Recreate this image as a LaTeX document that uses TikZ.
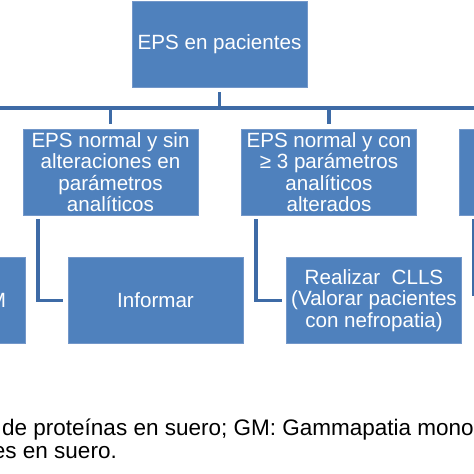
\documentclass[tikz,border=0pt]{standalone}
\usepackage{fontspec}
\setmainfont{Liberation Sans}
\definecolor{boxblue}{HTML}{4F81BD}
\definecolor{edgeblue}{HTML}{7397C9}
\definecolor{lineblue}{HTML}{3E6BA6}

\begin{document}
\begin{tikzpicture}[x=1pt, y=-1pt,
  caja/.style={draw=edgeblue, line width=0.8pt, fill=boxblue, text=white,
    minimum width=175pt, minimum height=86pt, inner sep=0pt, align=center,
    font=\fontsize{20.6}{21.5}\selectfont},
  linea/.style={draw=lineblue, line width=3.8pt},
  pie/.style={inner sep=0pt, font=\fontsize{22.5}{24}\selectfont}]
 \useasboundingbox (0,0) rectangle (474,474);
 \fill[white] (0,0) rectangle (474,474);
 \clip (0,0) rectangle (474,474);
 \node[caja] (eps) at (219.5,44) {EPS en pacientes};
 \node[caja] (normal) at (110.5,172) {EPS normal y sin\\alteraciones en\\parámetros\\analíticos};
 \node[caja] (alterados) at (329,172) {EPS normal y con\\≥ 3 parámetros\\analíticos\\alterados};
 \node[caja] (tercero) at (547,172) {};
 \node[caja, text width=137pt, align=right] (gm) at (-62.5,300.5) {GM};
 \node[caja] (informar) at (155.5,300.5) {Informar};
 \node[caja] (clls) at (374,300.5) {Realizar\ \ CLLS\\(Valorar pacientes\\con nefropatia)};
 \coordinate (barra) at (220,108);
 \coordinate (barraO) at (-20,108);
 \coordinate (barraE) at (500,108);
 \draw[linea, shorten <=5pt] (eps) -- (eps |- barra);
 \draw[linea] (barraO) -- (barraE);
 \foreach \n in {normal,alterados,tercero}
  \draw[linea, shorten >=5pt] (\n.north |- barra) -- (\n.north);
 \draw[linea, shorten <=4pt, shorten >=5pt] ([xshift=-72.5pt]normal.south) |- (informar.west);
 \draw[linea, shorten <=4pt, shorten >=4pt] ([xshift=-73pt]alterados.south) |- (clls.west);
 \draw[linea, shorten <=4pt] ([xshift=-73pt]tercero.south) -- ++(0,81);
 \node[pie, anchor=base west] (pie1) at (2,435) {de proteínas en suero; GM: Gammapatia monoclonal};
 \node[pie, anchor=base east] (pie2) at (117,458) {es en suero.};
\end{tikzpicture}
\end{document}
